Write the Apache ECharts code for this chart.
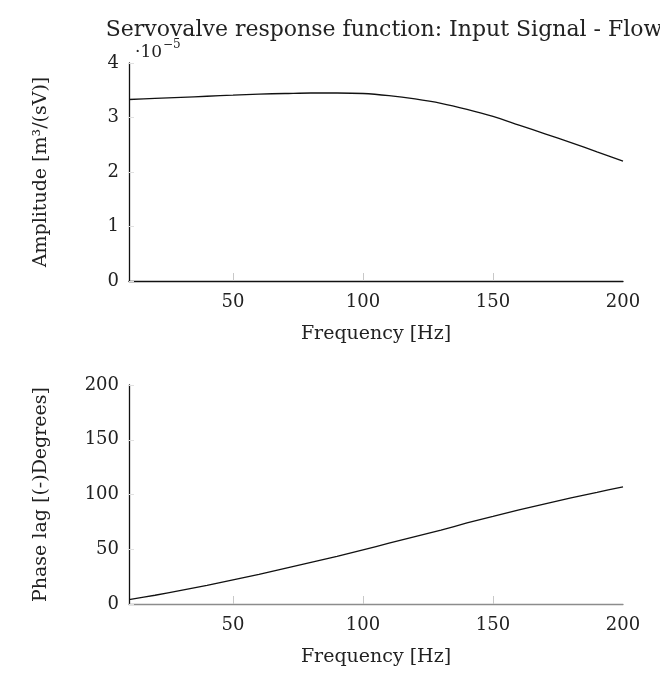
<!DOCTYPE html>
<html><head><meta charset="utf-8">
<script src="https://cdn.jsdelivr.net/npm/echarts@6/dist/echarts.min.js"></script>
<style>html,body{margin:0;padding:0;background:#fff}#c{width:660px;height:683px}</style>
</head><body><div id="c"></div>
<script>
// Frequency [Hz]
const freq = [10, 20, 30, 40, 50, 60, 70, 80, 90, 100, 110, 120, 130, 140, 150, 160, 170, 180, 190, 200];
// Amplitude, in units of 1e-5 m^3/(sV)
const amplitude = [3.33, 3.35, 3.37, 3.39, 3.41, 3.43, 3.44, 3.45, 3.45, 3.44, 3.40, 3.34, 3.26, 3.15, 3.02, 2.86, 2.70, 2.54, 2.37, 2.20];
// Phase lag, degrees
const phase = [4, 8, 12.5, 17, 22, 27, 32.5, 38, 43.5, 49.5, 55.5, 61.5, 67.5, 74, 80, 86, 91.5, 97, 102, 107];
const xTickLabels = [50, 100, 150, 200];
const xTickMarks = [50, 100, 150];

const FONT = '"DejaVu Serif", "Liberation Serif", serif';
const chart = echarts.init(document.getElementById('c'), null, {renderer: 'canvas'});

function xAxis(gridIndex, lineColor) {
  return {
    type: 'value', gridIndex, min: 10, max: 200,
    axisLine: {show: true, lineStyle: {color: lineColor, width: 1.3}},
    axisTick: {show: true, inside: true, length: 8, customValues: xTickMarks, lineStyle: {color: '#c8c8c8', width: 1}},
    axisLabel: {show: true, customValues: xTickLabels, color: '#222', fontFamily: FONT, fontSize: 18, margin: 12},
    splitLine: {show: false},
    name: 'Frequency [Hz]', nameLocation: 'middle', nameGap: 44,
    nameTextStyle: {color: '#222', fontFamily: FONT, fontSize: 19}
  };
}
function yAxis(gridIndex, max, interval, name, gap) {
  return {
    type: 'value', gridIndex, min: 0, max, interval,
    axisLine: {show: true, lineStyle: {color: '#111', width: 1.3}},
    axisTick: {show: true, inside: true, length: 5, lineStyle: {color: '#e0e0e0'}},
    axisLabel: {color: '#222', fontFamily: FONT, fontSize: 18, margin: 10},
    splitLine: {show: false},
    name, nameLocation: 'middle', nameGap: gap, nameRotate: 90,
    nameTextStyle: {color: '#222', fontFamily: FONT, fontSize: 19}
  };
}

chart.setOption({
  animation: false,
  backgroundColor: '#fff',
  title: [
    {text: 'Servovalve response function: Input Signal - Flow', left: 379, top: 14, textAlign: 'center',
     textStyle: {fontFamily: FONT, fontSize: 22, fontWeight: 'normal', color: '#222'}},
    {text: '{a|·10}{b|−5}', left: 130, top: 34,
     textStyle: {fontWeight: 'normal', rich: {
       a: {fontFamily: FONT, fontSize: 17, fontWeight: 'normal', color: '#222', verticalAlign: 'bottom'},
       b: {fontFamily: FONT, fontSize: 12, fontWeight: 'normal', color: '#222', verticalAlign: 'top', padding: [0,0,10,1]}
     }}}
  ],
  grid: [
    {left: 129, top: 63, width: 494, height: 218},
    {left: 129, top: 385, width: 494, height: 219}
  ],
  xAxis: [xAxis(0, '#111'), xAxis(1, '#8c8c8c')],
  yAxis: [
    yAxis(0, 4, 1, 'Amplitude [m³/(sV)]', 78),
    yAxis(1, 200, 50, 'Phase lag [(-)Degrees]', 78)
  ],
  series: [
    {type: 'line', xAxisIndex: 0, yAxisIndex: 0, data: freq.map((f, i) => [f, amplitude[i]]),
     smooth: 0.3, showSymbol: false, lineStyle: {color: '#111', width: 1.3}},
    {type: 'line', xAxisIndex: 1, yAxisIndex: 1, data: freq.map((f, i) => [f, phase[i]]),
     smooth: 0.3, showSymbol: false, lineStyle: {color: '#111', width: 1.3}}
  ]
});
</script>
</body></html>
